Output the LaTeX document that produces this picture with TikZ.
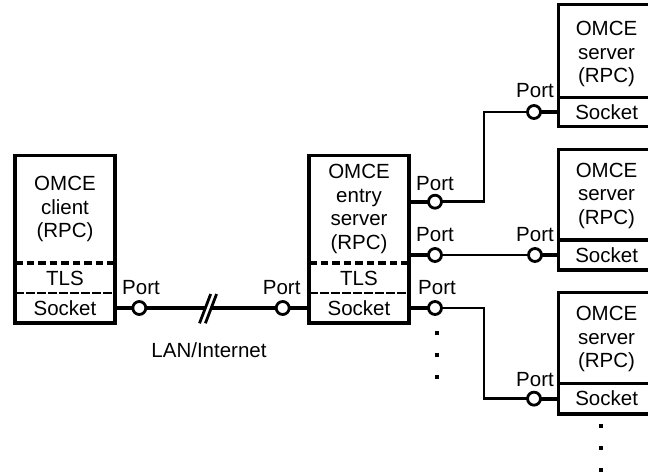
\documentclass[tikz,border=0pt]{standalone}
\usepackage{fontspec}
\setmainfont{Liberation Sans}
\usetikzlibrary{calc}
\begin{document}
\begin{tikzpicture}[x=1pt,y=-1pt,
  every node/.style={font=\fontsize{20.5}{23.5}\selectfont, inner sep=0pt, outer sep=0pt},
  box/.style={draw, line width=3.4pt, minimum width=100pt},
  rbox/.style={draw, line width=3.4pt, minimum width=96.7pt},
  row/.style={minimum width=100pt, minimum height=30pt},
  rrow/.style={draw, line width=3.4pt, minimum width=96.7pt},
  title/.style={align=center},
  tlstop/.style={line width=3.4pt, dash pattern=on 7.5pt off 4pt},
  tlsbot/.style={line width=2.6pt, dash pattern=on 9pt off 2pt},
  port/.style={circle, draw, fill=white, line width=2.8pt, minimum size=13pt},
  plabel/.style={anchor=base},
  stub/.style={line width=4.2pt},
  trunk/.style={line width=3.6pt},
  link/.style={line width=2.8pt},
  dot/.style={fill, rectangle, minimum size=3.8pt}
]
\clip (0,0) rectangle (648,474);

% ---- client ----
\node[box, minimum height=167.5pt] (client) at (65,239.25) {};
\node[title] (clientname) at (65,209) {OMCE\\client\\(RPC)};
\node[row] (ctls) at (65,278) {TLS};
\node[row] (csock) at (65,308) {Socket};
\draw[tlstop] (ctls.north west) -- (ctls.north east);
\draw[tlsbot] (ctls.south west) -- (ctls.south east);

% ---- entry server ----
\node[box, minimum height=167.5pt] (entry) at (359,239.25) {};
\node[title] (entryname) at (359,209.2) {OMCE\\entry\\server\\(RPC)};
\node[row] (etls) at (359,278) {TLS};
\node[row] (esock) at (359,308) {Socket};
\draw[tlstop] (etls.north west) -- (etls.north east);
\draw[tlsbot] (etls.south west) -- (etls.south east);

% ---- back-end servers ----
\node[rbox, minimum height=122pt] (srvA) at (606.65,65.7) {};
\node[title] (srvAname) at (606.5,54) {OMCE\\server\\(RPC)};
\node[rrow, minimum height=29.4pt] (sockA) at (606.65,112) {Socket};

\node[rbox, minimum height=120.7pt] (srvB) at (606.65,209.65) {};
\node[title] (srvBname) at (606.5,195.8) {OMCE\\server\\(RPC)};
\node[rrow, minimum height=30pt] (sockB) at (606.65,255) {Socket};

\node[rbox, minimum height=121.3pt] (srvC) at (606.65,353.35) {};
\node[title] (srvCname) at (606.5,339) {OMCE\\server\\(RPC)};
\node[rrow, minimum height=30.7pt] (sockC) at (606.65,398.65) {Socket};

% ---- ports ----
\node[port] (cp)  at (139.3,308) {};
\node[port] (ep0) at (282.7,308) {};
\node[port] (ep1) at (435,201.7) {};
\node[port] (ep2) at (435,255) {};
\node[port] (ep3) at (435,308) {};
\node[port] (rp1) at (534,112) {};
\node[port] (rp2) at (535,255) {};
\node[port] (rp3) at (534,398.65) {};

\node[plabel] (cpl)  at (141,294.3) {Port};
\node[plabel] (ep0l) at (281.7,294.3) {Port};
\node[plabel] (ep1l) at (435,190.6) {Port};
\node[plabel] (ep2l) at (435,241.6) {Port};
\node[plabel] (ep3l) at (437,294.3) {Port};
\node[plabel] (rp1l) at (535,97) {Port};
\node[plabel] (rp2l) at (535,241.6) {Port};
\node[plabel] (rp3l) at (535,386) {Port};

% ---- client to entry server over the network ----
\coordinate (brkA) at (205.3,308);
\coordinate (brkB) at (211.2,308);
\draw[stub] (csock.east) -- (cp);
\draw[trunk] (cp) -- (brkA);
\draw[trunk] (brkB) -- (ep0);
\draw[stub] (ep0) -- (esock.west);
\draw[link] ($(brkA)+(-5.8,15.3)$) -- ($(brkA)+(5.4,-14)$);
\draw[link] ($(brkB)+(-5.8,15.3)$) -- ($(brkB)+(5.4,-14)$);
\node (lan) at (209,350) {LAN/Internet};

% ---- entry server to back-end servers ----
\coordinate (j1) at (484,150);
\coordinate (j3) at (484,350);
\draw[stub] (ep1 -| entry.east) -- (ep1);
\draw[stub] (ep2 -| entry.east) -- (ep2);
\draw[stub] (esock.east) -- (ep3);
\draw[link] (ep1) -| (j1) |- (rp1);
\draw[link] (ep2) -- (rp2);
\draw[link] (ep3) -| (j3) |- (rp3);
\draw[stub] (rp1) -- (sockA.west);
\draw[stub] (rp2) -- (sockB.west);
\draw[stub] (rp3) -- (sockC.west);

% ---- further ports / servers ----
\node[dot] (ed1) at (437,333) {};
\node[dot] (ed2) at (437,355) {};
\node[dot] (ed3) at (437,377) {};
\node[dot] (sd1) at (601,426) {};
\node[dot] (sd2) at (601,448) {};
\node[dot] (sd3) at (601,470) {};
\end{tikzpicture}
\end{document}
